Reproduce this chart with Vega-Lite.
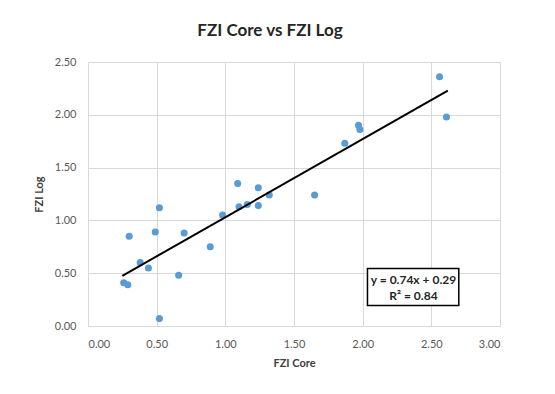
{
  "$schema": "https://vega.github.io/schema/vega-lite/v6.json",
  "width": 412,
  "height": 264,
  "autosize": {"type": "none"},
  "padding": {"left": 88, "top": 62, "right": 55, "bottom": 68},
  "background": "white",
  "title": {
    "text": "FZI Core vs FZI Log",
    "font": "Lato",
    "fontSize": 17,
    "fontWeight": "bold",
    "color": "#262626",
    "anchor": "middle",
    "dx": -24,
    "offset": 16
  },
  "config": {
    "view": {"stroke": null},
    "font": "Lato",
    "axis": {
      "labelFont": "Lato",
      "labelFontSize": 11,
      "labelColor": "#595959",
      "titleFont": "Lato",
      "titleFontSize": 11,
      "titleFontWeight": "bold",
      "titleColor": "#404040",
      "gridColor": "#d9d9d9",
      "gridWidth": 1,
      "ticks": false,
      "domain": false
    }
  },
  "datasets": {
    "fzi": [
      {"core": 2.56, "log": 2.36},
      {"core": 2.61, "log": 1.98},
      {"core": 1.97, "log": 1.90},
      {"core": 1.98, "log": 1.86},
      {"core": 1.87, "log": 1.73},
      {"core": 1.65, "log": 1.24},
      {"core": 1.32, "log": 1.24},
      {"core": 1.24, "log": 1.31},
      {"core": 1.24, "log": 1.14},
      {"core": 1.09, "log": 1.35},
      {"core": 1.16, "log": 1.15},
      {"core": 1.10, "log": 1.13},
      {"core": 0.98, "log": 1.05},
      {"core": 0.89, "log": 0.75},
      {"core": 0.70, "log": 0.88},
      {"core": 0.66, "log": 0.48},
      {"core": 0.52, "log": 1.12},
      {"core": 0.49, "log": 0.89},
      {"core": 0.52, "log": 0.07},
      {"core": 0.44, "log": 0.55},
      {"core": 0.38, "log": 0.60},
      {"core": 0.30, "log": 0.85},
      {"core": 0.26, "log": 0.41},
      {"core": 0.29, "log": 0.39}
    ],
    "trend": [
      {"core": 0.25, "log": 0.475},
      {"core": 2.62, "log": 2.2288}
    ]
  },
  "layer": [
    {
      "data": {"name": "fzi"},
      "mark": {"type": "circle", "size": 50, "color": "#5b9bd5", "opacity": 1},
      "encoding": {
        "x": {
          "field": "core",
          "type": "quantitative",
          "title": "FZI Core",
          "scale": {"domain": [0, 3], "nice": false},
          "axis": {"values": [0, 0.5, 1, 1.5, 2, 2.5, 3], "format": ".2f", "labelPadding": 12, "titlePadding": 8}
        },
        "y": {
          "field": "log",
          "type": "quantitative",
          "title": "FZI Log",
          "scale": {"domain": [0, 2.5], "nice": false},
          "axis": {"values": [0, 0.5, 1, 1.5, 2, 2.5], "format": ".2f", "labelPadding": 12, "titlePadding": 10}
        }
      }
    },
    {
      "data": {"name": "trend"},
      "mark": {"type": "line", "color": "#000000", "strokeWidth": 2},
      "encoding": {
        "x": {"field": "core", "type": "quantitative"},
        "y": {"field": "log", "type": "quantitative"}
      }
    },
    {
      "data": {"values": [{}]},
      "mark": {"type": "rect", "fill": "white", "stroke": "#000000", "strokeWidth": 1.5},
      "encoding": {
        "x": {"datum": 2.035, "type": "quantitative"},
        "x2": {"datum": 2.70},
        "y": {"datum": 0.193, "type": "quantitative"},
        "y2": {"datum": 0.544}
      }
    },
    {
      "data": {"values": [{"line": "y = 0.74x + 0.29"}]},
      "mark": {"type": "text", "font": "Lato", "fontSize": 12, "fontWeight": "bold", "color": "#262626", "align": "center", "baseline": "middle"},
      "encoding": {
        "x": {"datum": 2.37, "type": "quantitative"},
        "y": {"datum": 0.436, "type": "quantitative"},
        "text": {"field": "line"}
      }
    },
    {
      "data": {"values": [{"line": "R² = 0.84"}]},
      "mark": {"type": "text", "font": "Lato", "fontSize": 12, "fontWeight": "bold", "color": "#262626", "align": "center", "baseline": "middle"},
      "encoding": {
        "x": {"datum": 2.37, "type": "quantitative"},
        "y": {"datum": 0.284, "type": "quantitative"},
        "text": {"field": "line"}
      }
    }
  ]
}
